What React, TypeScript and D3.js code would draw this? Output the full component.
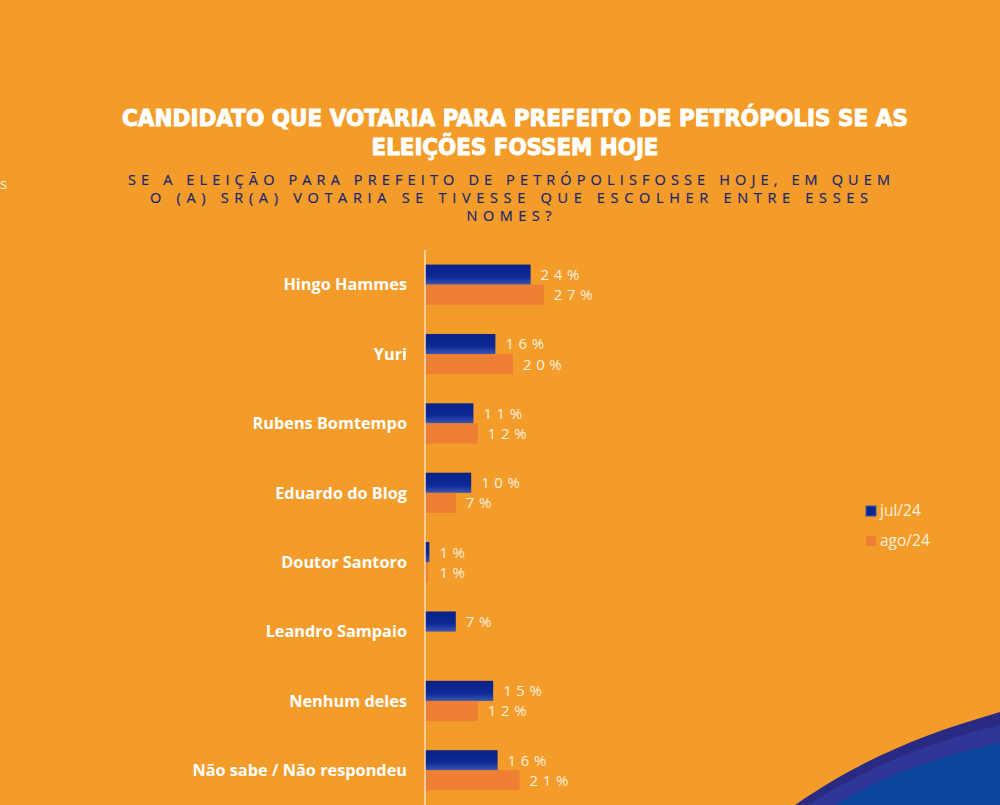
import React, { useEffect, useRef } from 'react';
import * as d3 from 'd3';

const candidates = [
  'Hingo Hammes',
  'Yuri',
  'Rubens Bomtempo',
  'Eduardo do Blog',
  'Doutor Santoro',
  'Leandro Sampaio',
  'Nenhum deles',
  'Não sabe / Não respondeu',
];
const jul24: (number | null)[] = [24, 16, 11, 10.5, 1, 7, 15.5, 16.5];
const ago24: (number | null)[] = [27, 20, 12, 7, 0.7, null, 12, 21.5];
const julLabels = ['24%', '16%', '11%', '10%', '1%', '7%', '15%', '16%'];
const agoLabels = ['27%', '20%', '12%', '7%', '1%', '', '12%', '21%'];
const seriesNames = ['jul/24', 'ago/24'];

const W = 1000;
const H = 805;
const BG = '#f39c2a';
const BLUE = '#0b2690';
const ORANGE = '#ee7f33';
const LABEL = '#fdf0df';

const App = () => {
  const svgRef = useRef<SVGSVGElement>(null);

  useEffect(() => {
    const svg = d3.select(svgRef.current);
    svg.selectAll('*').remove();

    svg.append('rect').attr('width', W).attr('height', H).attr('fill', BG);

    const defs = svg.append('defs');
    const g1 = defs.append('linearGradient').attr('id', 'blueGrad').attr('x1', 0).attr('y1', 0).attr('x2', 0).attr('y2', 1);
    g1.append('stop').attr('offset', '0%').attr('stop-color', '#0a2288');
    g1.append('stop').attr('offset', '60%').attr('stop-color', '#0c2894');
    g1.append('stop').attr('offset', '100%').attr('stop-color', '#3a56b0');

    // blue wave bottom right
    svg.append('path')
      .attr('d', 'M795,805 C860,760 920,735 1000,712 L1000,805 Z')
      .attr('fill', '#2a2a82');
    svg.append('path')
      .attr('d', 'M808,805 C870,765 930,742 1000,725 L1000,805 Z')
      .attr('fill', '#2e3698');
    svg.append('path')
      .attr('d', 'M835,805 C890,772 945,755 1000,743 L1000,805 Z')
      .attr('fill', '#0a469c');

    // titles
    const title = svg.append('g').attr('font-family', '"DejaVu Sans Condensed", "DejaVu Sans"')
      .attr('font-weight', 'bold').attr('fill', '#ffffff').attr('stroke', '#ffffff').attr('stroke-width', 0.9)
      .attr('font-size', 22.5).attr('text-anchor', 'middle');
    title.append('text').attr('x', 515).attr('y', 126)
      .attr('textLength', 786).attr('lengthAdjust', 'spacingAndGlyphs')
      .text('CANDIDATO QUE VOTARIA PARA PREFEITO DE PETRÓPOLIS SE AS');
    title.append('text').attr('x', 515).attr('y', 155)
      .attr('textLength', 287).attr('lengthAdjust', 'spacingAndGlyphs')
      .text('ELEIÇÕES FOSSEM HOJE');

    const sub = svg.append('g').attr('font-family', '"Open Sans", sans-serif')
      .attr('fill', '#1a2670').attr('font-size', 14.5).attr('text-anchor', 'middle')
      .attr('stroke', '#1a2670').attr('stroke-width', 0.2);
    const subLines = [
      { t: 'SE A ELEIÇÃO PARA PREFEITO DE PETRÓPOLISFOSSE HOJE, EM QUEM', y: 185, w: 762 },
      { t: 'O (A) SR(A) VOTARIA SE TIVESSE QUE ESCOLHER ENTRE ESSES', y: 203, w: 718 },
      { t: 'NOMES?', y: 221, w: 85 },
    ];
    subLines.forEach((l) => {
      sub.append('text').attr('x', 509).attr('y', l.y)
        .attr('textLength', l.w).attr('lengthAdjust', 'spacing').text(l.t);
    });

    svg.append('text').attr('x', 0).attr('y', 189).attr('fill', LABEL)
      .attr('font-family', '"Open Sans", sans-serif').attr('font-size', 15).text('s');

    // chart
    const x0 = 425;
    const x = d3.scaleLinear().domain([0, 1]).range([x0, x0 + 440]);
    const y = d3.scaleBand().domain(candidates).range([250, 805]).paddingInner(0.42).paddingOuter(0.21);
    const yInner = d3.scaleBand().domain(seriesNames).range([0, y.bandwidth()]);

    const rows = svg.append('g').selectAll('g').data(candidates).join('g')
      .attr('transform', (d) => `translate(0,${y(d)})`);

    rows.append('text')
      .attr('x', 407).attr('y', y.bandwidth() / 2).attr('dy', '0.35em')
      .attr('text-anchor', 'end').attr('fill', '#ffffff')
      .attr('font-family', '"Open Sans", sans-serif').attr('font-weight', 'bold').attr('font-size', 16.3)
      .text((d) => d);

    const series = [jul24, ago24];
    const labels = [julLabels, agoLabels];
    series.forEach((vals, si) => {
      const name = seriesNames[si];
      rows.each(function (c, i) {
        const v = vals[i];
        if (v == null) return;
        const g = d3.select(this);
        const yy = yInner(name) as number;
        g.append('rect')
          .attr('x', x0).attr('y', yy)
          .attr('width', x(v / 100) - x0).attr('height', yInner.bandwidth())
          .attr('fill', si === 0 ? 'url(#blueGrad)' : ORANGE);
        g.append('text')
          .attr('x', x(Math.max(v, 1) / 100) + 10).attr('y', yy + yInner.bandwidth() / 2).attr('dy', '0.36em')
          .attr('fill', LABEL).attr('font-family', '"Open Sans", sans-serif').attr('font-size', 15)
          .attr('letter-spacing', 4.6)
          .text(labels[si][i]);
      });
    });

    svg.append('line').attr('x1', x0).attr('x2', x0).attr('y1', 250).attr('y2', H)
      .attr('stroke', '#f5dcc0').attr('stroke-width', 1.5);

    // legend
    const legend = svg.append('g').attr('transform', 'translate(866,506)');
    seriesNames.forEach((n, i) => {
      const lg = legend.append('g').attr('transform', `translate(0,${i * 30})`);
      lg.append('rect').attr('width', 10).attr('height', 10)
        .attr('fill', i === 0 ? BLUE : ORANGE).attr('stroke', i === 0 ? '#3a56b0' : 'none');
      lg.append('text').attr('x', 14).attr('y', 5).attr('dy', '0.35em')
        .attr('fill', LABEL).attr('font-family', '"Open Sans", sans-serif').attr('font-size', 15.5)
        .text(n);
    });
  }, []);

  return (
    <svg ref={svgRef} width={W} height={H} style={{ position: 'absolute', left: 0, top: 0, display: 'block' }} />
  );
};

export default App;
